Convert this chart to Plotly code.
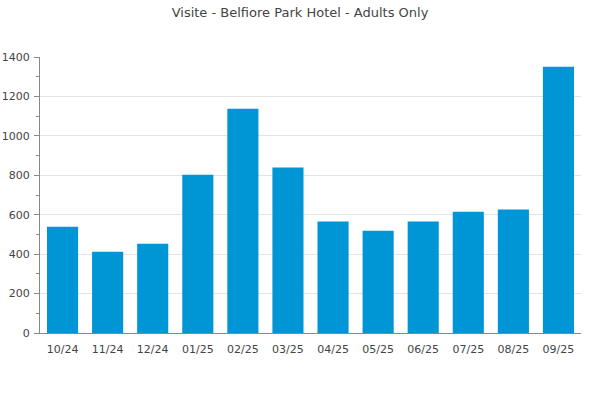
import plotly.graph_objects as go

categories = ["10/24", "11/24", "12/24", "01/25", "02/25", "03/25",
              "04/25", "05/25", "06/25", "07/25", "08/25", "09/25"]
visits = [539, 412, 453, 803, 1138, 839, 565, 519, 565, 615, 626, 1351]
y_ticks = [0, 200, 400, 600, 800, 1000, 1200, 1400]

fig = go.Figure(go.Bar(x=categories, y=visits, marker=dict(color="#0096D6", line=dict(width=0))))

fig.update_layout(
    width=600, height=400,
    margin=dict(l=40, r=19, t=57, b=67, autoexpand=False),
    paper_bgcolor="white", plot_bgcolor="white",
    bargap=0.31,
    showlegend=False,
    font=dict(family="DejaVu Sans", size=11, color="#444"),
    title=dict(text="Visite - Belfiore Park Hotel - Adults Only", x=0.5, xanchor="center",
               y=0.97, yanchor="middle", automargin=False,
               font=dict(family="DejaVu Sans", size=13, color="#444")),
)
fig.update_xaxes(
    showline=True, linecolor="#888", linewidth=1, ticks="", showgrid=False,
    automargin=False, ticklabelstandoff=6,
    tickfont=dict(size=11, color="#444"),
)
fig.update_yaxes(
    range=[0, 1400], tickvals=y_ticks, showline=True, linecolor="#888", linewidth=1,
    ticks="outside", ticklen=5, tickcolor="#888", automargin=False, ticklabelstandoff=2,
    minor=dict(ticks="outside", ticklen=3, tickcolor="#888", dtick=100, showgrid=False),
    showgrid=True, gridcolor="#e3e3e3", gridwidth=1, zeroline=False,
    tickfont=dict(size=11, color="#444"),
)

fig.write_html("out.html", config={"displayModeBar": False},
               post_script="document.body.style.margin='0';")
